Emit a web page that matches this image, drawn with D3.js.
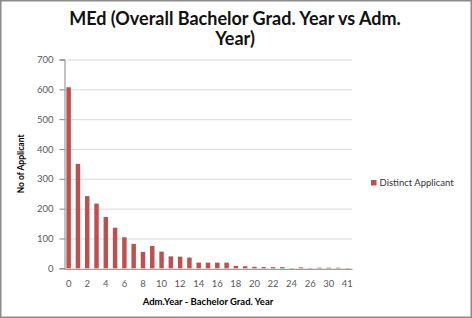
<!DOCTYPE html>
<html>
<head>
<meta charset="utf-8">
<script src="https://cdn.jsdelivr.net/npm/d3@7"></script>
<style>
  body { margin: 0; background: #fff; }
  svg { display: block; }
</style>
</head>
<body>
<div id="chart"></div>
<script>
// chart data
const categories = ["0","1","2","3","4","5","6","7","8","9","10","11","12","13","14","15","16","17","18","19","20","21","22","23","24","25","26","28","30","33","41"];
const applicants = [607,350,242,217,172,136,104,82,55,75,56,40,39,36,19,19,19,19,8,7,5,4,4,4,1,3,1,2,2,2,1];
const yTicks = [0,100,200,300,400,500,600,700];
const seriesName = "Distinct Applicant";

const width = 472;
const height = 318;
const plot = { left: 64, right: 352, top: 59.5, bottom: 268.3 };
const barColor = "#c0504d";
const textColor = "#595959";

const svg = d3.select("#chart")
    .append("svg")
    .attr("width", width)
    .attr("height", height)
    .style("font-family", "Lato, 'Open Sans', sans-serif");

// outer chart border
svg.append("rect")
    .attr("x", 0.75).attr("y", 0.75)
    .attr("width", width - 1.5).attr("height", height - 1.5)
    .attr("fill", "#fff")
    .attr("stroke", "#8a8a8a")
    .attr("stroke-width", 1.5);

const x = d3.scaleBand()
    .domain(categories)
    .range([plot.left, plot.right])
    .paddingInner(0.52)
    .paddingOuter(0.26);

const y = d3.scaleLinear()
    .domain([0, 700])
    .range([plot.bottom, plot.top]);

// gridlines
svg.append("g")
    .selectAll("line")
    .data(yTicks.filter(d => d > 0))
    .join("line")
    .attr("x1", plot.left).attr("x2", plot.right)
    .attr("y1", d => y(d) + 0.5).attr("y2", d => y(d) + 0.5)
    .attr("stroke", "#d9d9d9")
    .attr("stroke-width", 1);

// bars
svg.append("g")
    .selectAll("rect")
    .data(applicants)
    .join("rect")
    .attr("x", (d, i) => x(categories[i]))
    .attr("width", x.bandwidth())
    .attr("y", d => y(d))
    .attr("height", d => y(0) - y(d))
    .attr("fill", barColor);

// y axis
const yAxis = svg.append("g")
    .attr("transform", `translate(${plot.left + 0.5},0)`)
    .call(d3.axisLeft(y).tickValues(yTicks).tickSize(5).tickPadding(6));
yAxis.select(".domain").attr("stroke", "#868686");
yAxis.selectAll(".tick line").attr("stroke", "#868686");
yAxis.selectAll("text")
    .attr("fill", textColor)
    .style("font-size", "9.5px")
    .style("font-family", "Lato, sans-serif");

// x axis
const xAxis = svg.append("g")
    .attr("transform", `translate(0,${plot.bottom + 0.5})`)
    .call(d3.axisBottom(x)
        .tickValues(categories.filter((d, i) => i % 2 === 0))
        .tickSize(0)
        .tickPadding(11));
xAxis.select(".domain").attr("stroke", "#868686");
xAxis.selectAll("text")
    .attr("fill", textColor)
    .style("font-size", "9.5px")
    .style("font-family", "Lato, sans-serif");

// title (two lines)
const titleLines = ["MEd (Overall Bachelor Grad. Year vs Adm.", "Year)"];
svg.append("g")
    .selectAll("text")
    .data(titleLines)
    .join("text")
    .attr("x", 235)
    .attr("y", (d, i) => 25 + i * 20)
    .attr("text-anchor", "middle")
    .attr("font-weight", "bold")
    .attr("font-size", 18)
    .attr("fill", "#111")
    .text(d => d);

// axis titles
svg.append("text")
    .attr("transform", `translate(24,${(plot.top + plot.bottom) / 2}) rotate(-90)`)
    .attr("text-anchor", "middle")
    .attr("font-weight", "bold")
    .attr("font-size", 8.5)
    .attr("fill", "#000")
    .text("No of Applicant");

svg.append("text")
    .attr("x", 208)
    .attr("y", 305)
    .attr("text-anchor", "middle")
    .attr("font-weight", "bold")
    .attr("font-size", 9.5)
    .attr("fill", "#000")
    .text("Adm.Year - Bachelor Grad. Year");

// legend
const legend = svg.append("g").attr("transform", "translate(371,180)");
legend.append("rect")
    .attr("width", 5.5).attr("height", 5.5)
    .attr("fill", barColor);
legend.append("text")
    .attr("x", 8.5).attr("y", 6)
    .attr("font-size", 9.5)
    .attr("fill", "#333")
    .text(seriesName);
</script>
</body>
</html>
